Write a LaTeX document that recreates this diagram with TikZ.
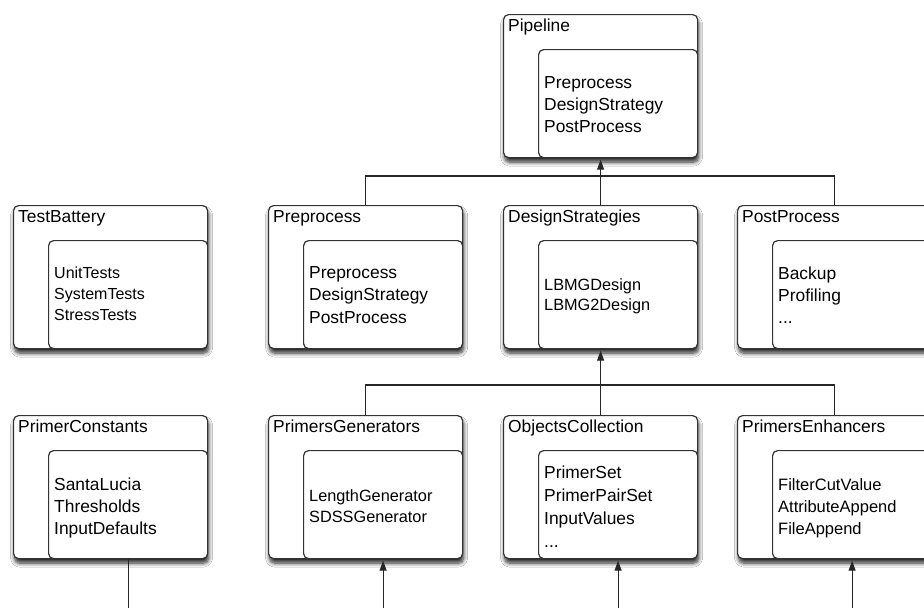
\documentclass[tikz,border=0pt]{standalone}
\usepackage{fontspec}
\setmainfont{Liberation Sans}
\usetikzlibrary{arrows.meta,shadows.blur}
\newcommand\threedots{...}
\tikzset{
  outerbox/.style={draw=black!80, line width=1.2pt, fill=white, rounded corners=5pt,
    minimum width=194pt, minimum height=143pt, anchor=north west, inner sep=0pt,
    blur shadow={shadow xshift=1pt, shadow yshift=-4.5pt, shadow blur radius=4pt, shadow opacity=85, shadow blur steps=8}},
  innerbox/.style={draw=black!80, line width=1.2pt, fill=white, rounded corners=5pt,
    minimum width=159pt, minimum height=108pt, anchor=south east, inner sep=0pt},
  ttl/.style={anchor=base west, inner sep=0pt, font=\fontsize{17.4}{20}\selectfont},
  conn/.style={draw=black!85, line width=1.1pt},
  arr/.style={conn, -{Triangle[length=10pt,width=7pt]}, shorten >=1.5pt},
}
\newcommand\pkgbox[4]{%
  \node[outerbox] (#1) at (#2,#3) {};
  \node[innerbox] (#1-in) at (#1.south east) {};
  \node[ttl] (#1-t) at ([xshift=5pt,yshift=-17.5pt]#1.north west) {#4};
}
\newcommand\pkglines[5]{%
  \foreach \txt [count=\i] in {#5} {
    \node[anchor=base west, inner sep=0pt, font=\fontsize{#2}{#2}\selectfont]
      (#1-l\i) at ([xshift=6pt, yshift={-#3pt-(\i-1)*#4pt}]#1-in.north west) {\txt};
  }
}
\begin{document}
\begin{tikzpicture}[x=1pt,y=-1pt]
\fill[white] (0,0) rectangle (924,608);
\useasboundingbox (0,0) rectangle (924,608);

% row 1
\pkgbox{pipe}{503}{14}{Pipeline}
\pkglines{pipe}{17.4}{39}{22}{Preprocess,DesignStrategy,PostProcess}

% row 2
\pkgbox{tb}{13}{205}{TestBattery}
\pkglines{tb}{16}{38}{21}{UnitTests,SystemTests,StressTests}
\pkgbox{pre}{268}{205}{Preprocess}
\pkglines{pre}{17.4}{38.5}{22.3}{Preprocess,DesignStrategy,PostProcess}
\pkgbox{ds}{503}{205}{DesignStrategies}
\pkglines{ds}{16.3}{50}{20}{LBMGDesign,LBMG2Design}
\pkgbox{post}{737}{205}{PostProcess}
\pkglines{post}{17.4}{39.5}{22}{Backup,Profiling,\threedots}

% row 3
\pkgbox{pc}{13}{415}{PrimerConstants}
\pkglines{pc}{17.4}{40}{22}{SantaLucia,Thresholds,InputDefaults}
\pkgbox{pg}{268}{415}{PrimersGenerators}
\pkglines{pg}{16.3}{51}{21}{LengthGenerator,SDSSGenerator}
\pkgbox{oc}{503}{415}{ObjectsCollection}
\pkglines{oc}{17.4}{28}{23}{PrimerSet,PrimerPairSet,InputValues,\threedots}
\pkgbox{pe}{737}{415}{PrimersEnhancers}
\pkglines{pe}{16.5}{40}{22}{FilterCutValue,AttributeAppend,FileAppend}

% connectors row 2 -> pipeline
\coordinate (b1) at (600,176);
\draw[conn] (pre.north) -- (pre.north |- b1) -- (post.north |- b1) -- (post.north);
\draw[arr] (ds.north) -- (pipe.south);

% connectors row 3 -> design strategies
\coordinate (b2) at (600,385);
\draw[conn] (pg.north) -- (pg.north |- b2) -- (pe.north |- b2) -- (pe.north);
\draw[arr] (oc.north) -- (ds.south);

% bottom free ends
\coordinate (e1) at (pc-in.south |- 0,608);
\coordinate (e2) at (pg-in.south |- 0,608);
\coordinate (e3) at (oc-in.south |- 0,608);
\coordinate (e4) at (pe-in.south |- 0,608);
\draw[conn] (pc-in.south) -- (e1);
\draw[arr] (e2) -- (pg-in.south);
\draw[arr] (e3) -- (oc-in.south);
\draw[arr] (e4) -- (pe-in.south);
\end{tikzpicture}
\end{document}
